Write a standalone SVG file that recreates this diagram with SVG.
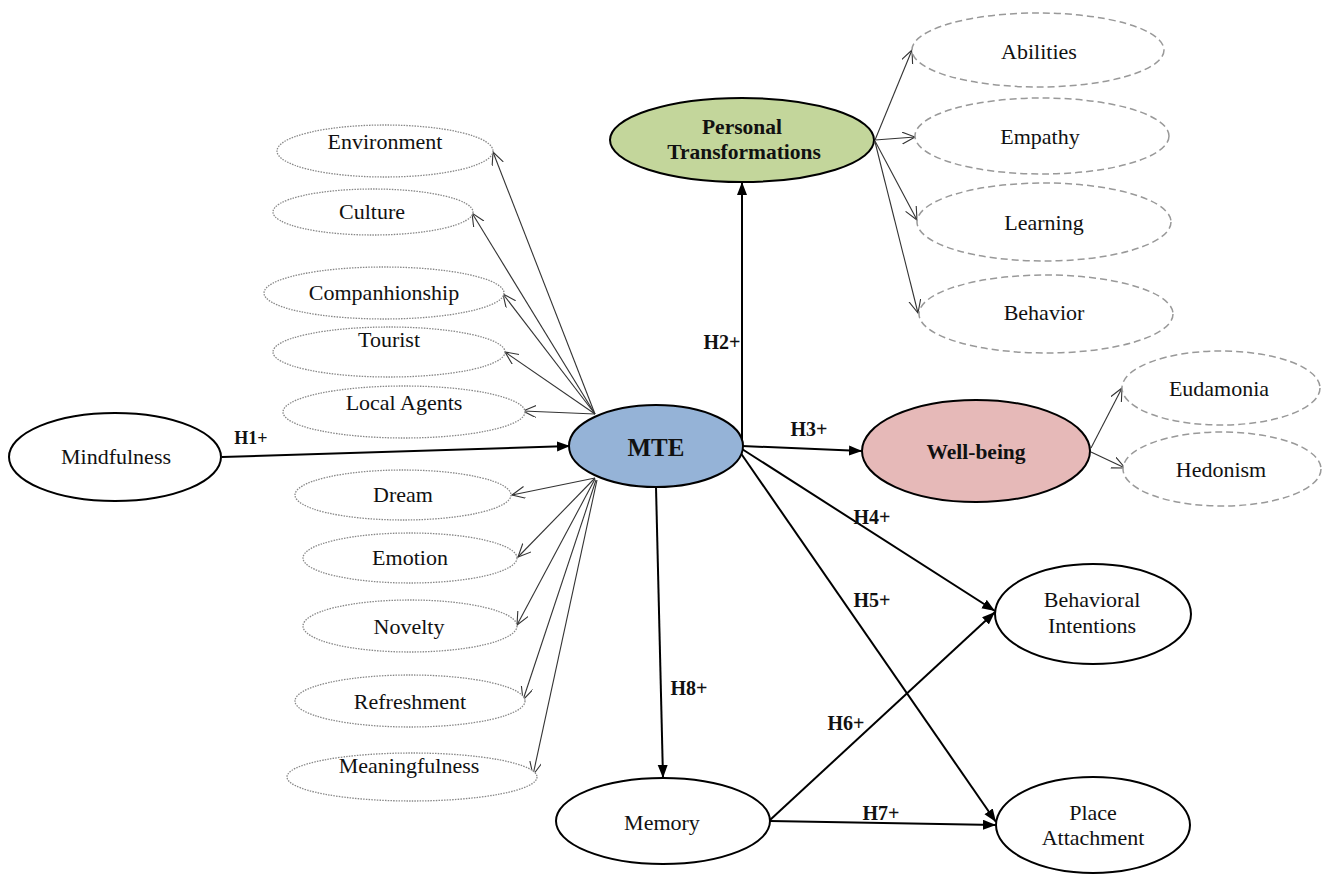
<svg xmlns="http://www.w3.org/2000/svg" width="1329" height="874" viewBox="0 0 1329 874">
<style>
text{font-family:"Liberation Serif","Times New Roman",serif;fill:#111;text-anchor:middle}
.r{font-size:22px}
.b{font-size:21.5px;font-weight:bold}
.h{font-size:20px;font-weight:bold}
.main{stroke:#000;stroke-width:2}
.dot{fill:#fff;stroke:#888;stroke-width:1.3;stroke-dasharray:1.5 1.2}
.dash{fill:#fff;stroke:#999;stroke-width:1.5;stroke-dasharray:7 4}
.thin{stroke:#333;stroke-width:1.1;fill:none;marker-end:url(#open)}
.thick{stroke:#000;stroke-width:2;fill:none;marker-end:url(#fill)}
</style>
<defs>
<marker id="open" markerUnits="userSpaceOnUse" markerWidth="16" markerHeight="14" refX="13" refY="6" orient="auto">
<path d="M0,0 L13,6 L0,12" fill="none" stroke="#333" stroke-width="1.1"/>
</marker>
<marker id="fill" markerUnits="userSpaceOnUse" markerWidth="14" markerHeight="12" refX="13" refY="5" orient="auto">
<path d="M0,0 L13,5 L0,10 Z" fill="#000"/>
</marker>
</defs>
<rect width="1329" height="874" fill="#fff"/>

<g id="connectors">
<line class="thin" x1="595" y1="414" x2="493" y2="152"/>
<line class="thin" x1="595" y1="414" x2="472" y2="213"/>
<line class="thin" x1="595" y1="414" x2="503" y2="294"/>
<line class="thin" x1="595" y1="414" x2="505" y2="352"/>
<line class="thin" x1="595" y1="414" x2="523" y2="411"/>
<line class="thin" x1="595" y1="478" x2="512" y2="495"/>
<line class="thin" x1="595" y1="478" x2="518" y2="557"/>
<line class="thin" x1="595" y1="479" x2="517" y2="625"/>
<line class="thin" x1="596" y1="480" x2="523" y2="700"/>
<line class="thin" x1="597" y1="480" x2="533" y2="775"/>
<line class="thin" x1="875" y1="140" x2="912" y2="50"/>
<line class="thin" x1="875" y1="140" x2="915" y2="137"/>
<line class="thin" x1="875" y1="141" x2="917" y2="220"/>
<line class="thin" x1="875" y1="142" x2="918" y2="313"/>
<line class="thin" x1="1091" y1="448" x2="1122" y2="388"/>
<line class="thin" x1="1091" y1="452" x2="1125" y2="468"/>
<line class="thick" x1="222" y1="457" x2="570" y2="446"/>
<line class="thick" x1="742" y1="446" x2="742" y2="182"/>
<line class="thick" x1="742" y1="446" x2="862" y2="451"/>
<line class="thick" x1="656" y1="487" x2="663" y2="778"/>
<line class="thick" x1="742" y1="449" x2="995" y2="611"/>
<line class="thick" x1="740" y1="452" x2="996" y2="822"/>
<line class="thick" x1="770" y1="820" x2="995" y2="612"/>
<line class="thick" x1="770" y1="821" x2="996" y2="825"/>
<text class="h" x="251" y="444" style="font-size:18px">H1+</text>
<text class="h" x="722" y="349">H2+</text>
<text class="h" x="809" y="436">H3+</text>
<text class="h" x="872" y="524">H4+</text>
<text class="h" x="872" y="607">H5+</text>
<text class="h" x="846" y="730">H6+</text>
<text class="h" x="881" y="820">H7+</text>
<text class="h" x="689" y="695">H8+</text>
</g>

<g id="mindfulness"><ellipse class="main" fill="#fff" cx="115" cy="457" rx="106" ry="44"/><text class="r" x="116" y="464">Mindfulness</text></g>
<g id="mte"><ellipse class="main" fill="#95b3d7" cx="656" cy="446" rx="87" ry="41"/><text class="b" x="656" y="456" style="font-size:25px">MTE</text></g>
<g id="personal-transformations"><ellipse class="main" fill="#c3d69b" cx="742" cy="140" rx="132" ry="42"/><text class="b" x="742" y="134">Personal</text><text class="b" x="744" y="159">Transformations</text></g>
<g id="well-being"><ellipse class="main" fill="#e6b9b8" cx="976" cy="451" rx="114" ry="51"/><text class="b" x="976" y="459">Well-being</text></g>
<g id="memory"><ellipse class="main" fill="#fff" cx="663" cy="821" rx="107" ry="43"/><text class="r" x="662" y="830">Memory</text></g>
<g id="behavioral-intentions"><ellipse class="main" fill="#fff" cx="1093" cy="614" rx="98" ry="50"/><text class="r" x="1092" y="607">Behavioral</text><text class="r" x="1092" y="633">Intentions</text></g>
<g id="place-attachment"><ellipse class="main" fill="#fff" cx="1093" cy="825" rx="97" ry="48"/><text class="r" x="1093" y="820">Place</text><text class="r" x="1093" y="845">Attachment</text></g>

<g id="environment"><ellipse class="dot" cx="385" cy="151" rx="108" ry="26"/><text class="r" x="385" y="149">Environment</text></g>
<g id="culture"><ellipse class="dot" cx="373" cy="212" rx="100" ry="23"/><text class="r" x="372" y="219">Culture</text></g>
<g id="companhionship"><ellipse class="dot" cx="384" cy="293" rx="120" ry="26"/><text class="r" x="384" y="300">Companhionship</text></g>
<g id="tourist"><ellipse class="dot" cx="389" cy="352" rx="116" ry="25"/><text class="r" x="389" y="347">Tourist</text></g>
<g id="local-agents"><ellipse class="dot" cx="404" cy="412" rx="121" ry="26"/><text class="r" x="404" y="410">Local Agents</text></g>
<g id="dream"><ellipse class="dot" cx="403" cy="495" rx="108" ry="25"/><text class="r" x="403" y="502">Dream</text></g>
<g id="emotion"><ellipse class="dot" cx="410" cy="558" rx="107" ry="25"/><text class="r" x="410" y="565">Emotion</text></g>
<g id="novelty"><ellipse class="dot" cx="410" cy="626" rx="107" ry="26"/><text class="r" x="409" y="634">Novelty</text></g>
<g id="refreshment"><ellipse class="dot" cx="410" cy="701" rx="115" ry="26"/><text class="r" x="410" y="709">Refreshment</text></g>
<g id="meaningfulness"><ellipse class="dot" cx="412" cy="777" rx="125" ry="24"/><text class="r" x="409" y="773">Meaningfulness</text></g>

<g id="abilities"><ellipse class="dash" cx="1038" cy="50" rx="126" ry="37"/><text class="r" x="1039" y="59">Abilities</text></g>
<g id="empathy"><ellipse class="dash" cx="1042" cy="136" rx="127" ry="38"/><text class="r" x="1040" y="144">Empathy</text></g>
<g id="learning"><ellipse class="dash" cx="1044" cy="222" rx="127" ry="39"/><text class="r" x="1044" y="230">Learning</text></g>
<g id="behavior"><ellipse class="dash" cx="1046" cy="314" rx="127" ry="39"/><text class="r" x="1044" y="320">Behavior</text></g>
<g id="eudamonia"><ellipse class="dash" cx="1221" cy="388" rx="99" ry="37"/><text class="r" x="1219" y="396">Eudamonia</text></g>
<g id="hedonism"><ellipse class="dash" cx="1222" cy="469" rx="99" ry="37"/><text class="r" x="1221" y="477">Hedonism</text></g>
</svg>
